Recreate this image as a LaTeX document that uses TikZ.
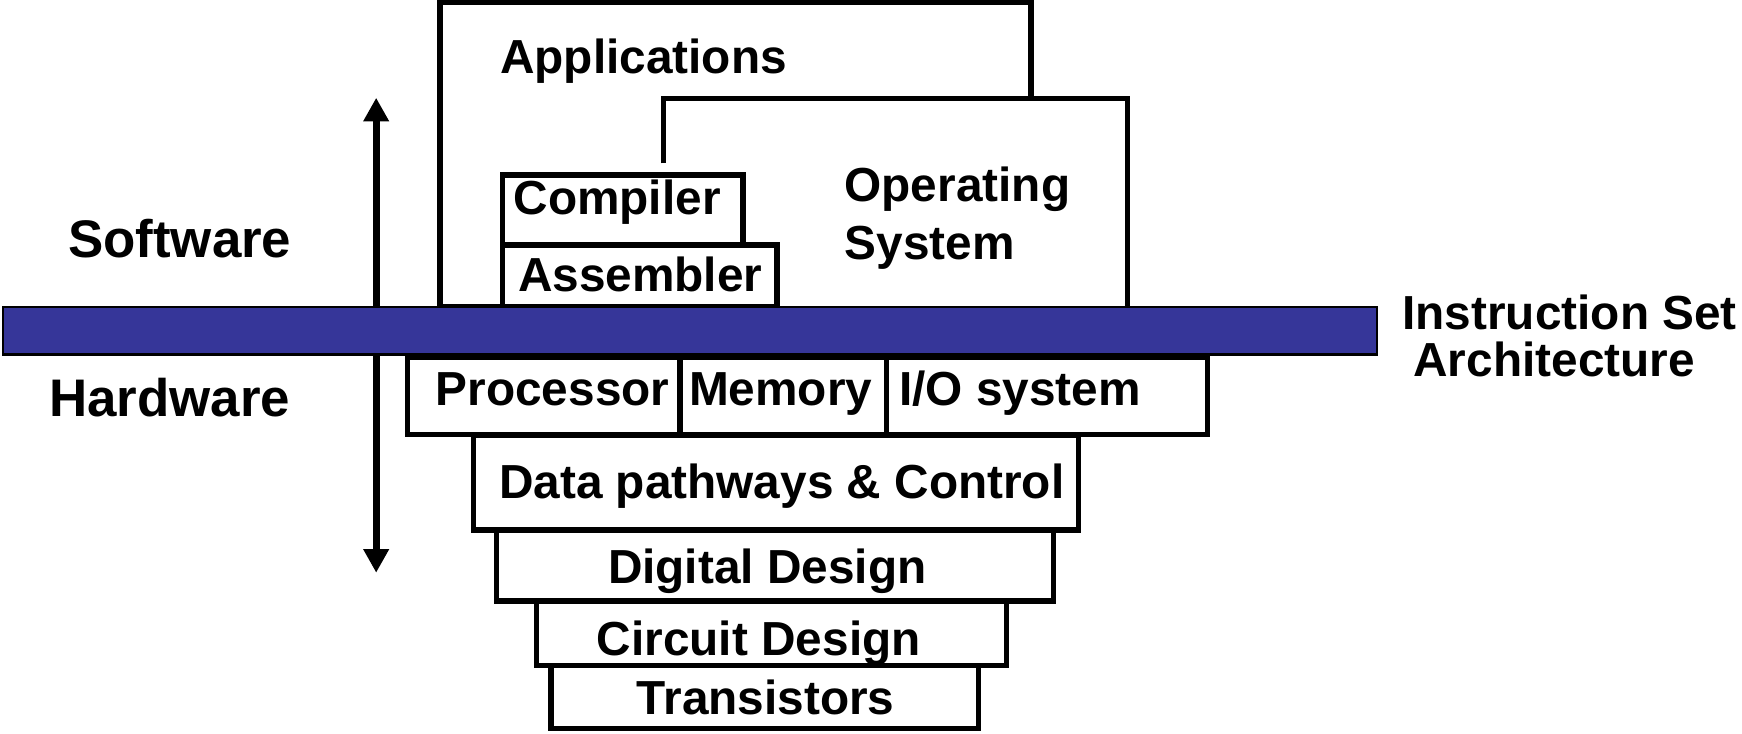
\documentclass[tikz,border=0pt]{standalone}
\usepackage{fontspec}
\setmainfont{Liberation Sans}
\usepackage{xcolor}
\usetikzlibrary{arrows.meta}
\definecolor{isablue}{RGB}{54,54,153}

\begin{document}
\begin{tikzpicture}[x=0.75pt,y=0.75pt,yscale=-1,xscale=1,
  layer/.style={draw, line width=3.5pt, fill=white},
  edge/.style={line width=3.5pt},
  lbl/.style={anchor=base west, inner sep=0pt, font=\bfseries\fontsize{32.25}{38}\selectfont},
  side/.style={anchor=base west, inner sep=0pt, font=\bfseries\fontsize{35.7}{42}\selectfont}]
\useasboundingbox (0,0) rectangle (1568,660);
\draw[layer] (396,2.4) rectangle (928,276);
\fill[white] (597,88.5) rectangle (1015,276);
\draw[edge] (597,147) -- (597,88.5) -- (1015,88.5) -- (1015,276);
\draw[layer] (452.3,157.5) rectangle (668.8,220.5);
\draw[layer] (452.3,220.5) rectangle (699.4,276);
\coordinate (swtop) at (338.6,88);
\coordinate (hwbot) at (338.6,515.5);
\draw[line width=4.8pt, {Triangle[length=16pt,width=16.5pt]}-{Triangle[length=16pt,width=16.5pt]}] (hwbot) -- (swtop);
\draw[line width=1.5pt, fill=isablue] (2.4,276) rectangle (1239.6,319);
\draw[layer] (367,321.5) rectangle (1087,391);
\draw[edge] (612,321.5) -- (612,391);
\draw[edge] (798,321.5) -- (798,391);
\draw[layer] (426,392) rectangle (971,477);
\draw[layer] (447,477) rectangle (948,541);
\draw[layer] (483,541) rectangle (906,599);
\draw[layer] (496,599) rectangle (881,655.5);
\node[lbl] (apps) at (450,66.6) {Applications};
\node[lbl] (comp) at (462,193.5) {Compiler};
\node[lbl] (asm) at (466,262.5) {Assembler};
\node[lbl] (osa) at (760,181.5) {Operating};
\node[lbl] (osb) at (760,234) {System};
\node[side] (sw) at (61,231.5) {Software};
\node[side] (hw) at (44,375) {Hardware};
\node[lbl] (isaa) at (1262,297) {Instruction Set};
\node[lbl] (isab) at (1272,339) {Architecture};
\node[lbl] (proc) at (392,364.6) {Processor};
\node[lbl] (mem) at (620,364.6) {Memory};
\node[lbl] (io) at (809,364.6) {I/O system};
\node[lbl] (data) at (449,448.5) {Data pathways \& Control};
\node[lbl] (dig) at (547,525) {Digital Design};
\node[lbl] (circ) at (537,590) {Circuit Design};
\node[lbl] (trans) at (573,643.5) {Transistors};
\end{tikzpicture}
\end{document}
